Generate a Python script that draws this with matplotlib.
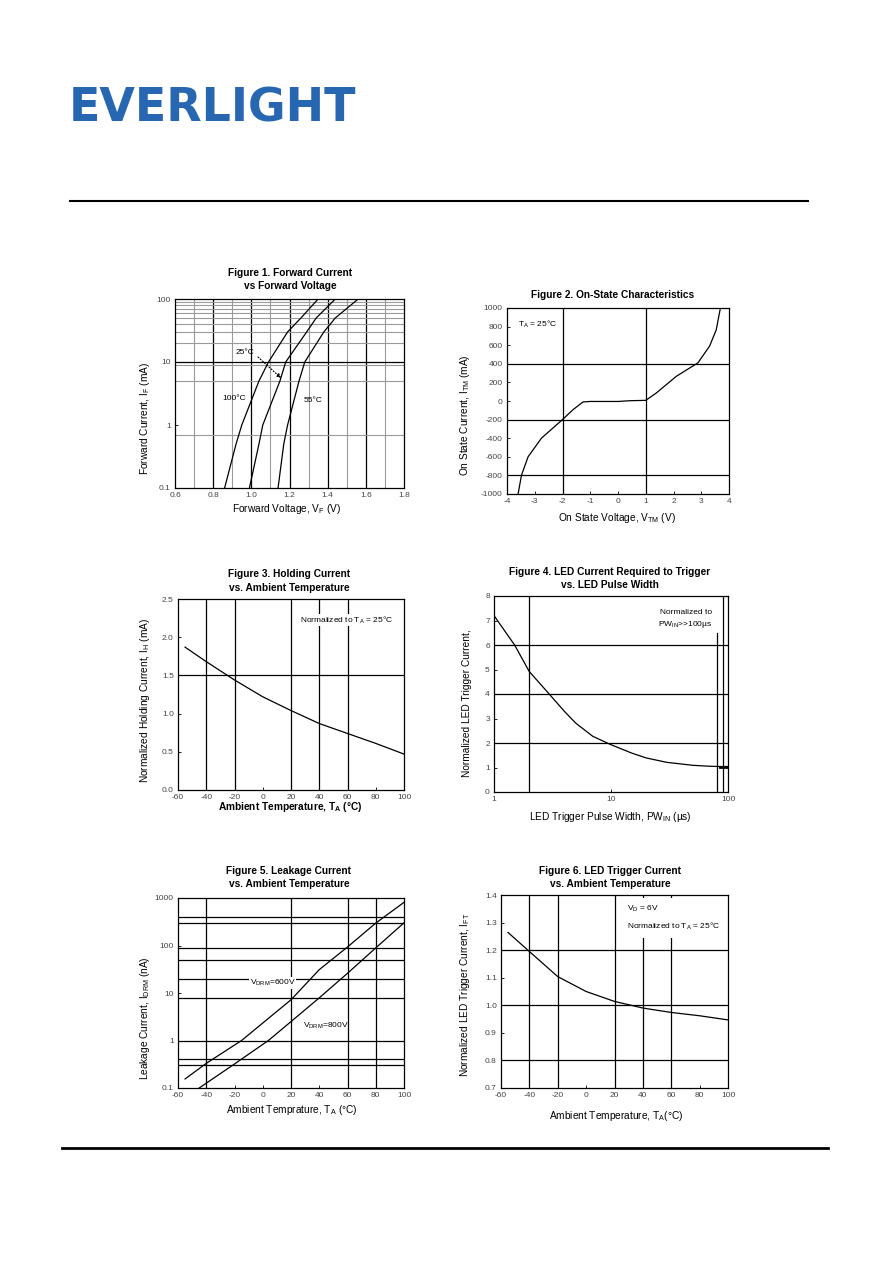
import matplotlib
matplotlib.use("Agg")
import matplotlib.pyplot as plt
from matplotlib.lines import Line2D

plt.rcParams["font.family"] = ["Liberation Sans", "DejaVu Sans"]
plt.rcParams["mathtext.default"] = "regular"
plt.rcParams["axes.unicode_minus"] = False

# Figure 1 - forward current vs forward voltage (log y)
if_ma = [0.1, 0.5, 1, 5, 10, 30, 50, 100]
vf_100c = [0.86, 0.92, 0.95, 1.04, 1.09, 1.19, 1.26, 1.35]
vf_25c = [0.99, 1.04, 1.06, 1.15, 1.18, 1.29, 1.34, 1.44]
vf_m55c = [1.14, 1.17, 1.19, 1.25, 1.28, 1.38, 1.44, 1.56]

# Figure 2 - on-state characteristics
vtm = [-3.60, -3.48, -3.24, -2.76, -2.0, -1.62, -1.26, -1.0, 0.0, 0.42, 1.0, 1.38, 2.1, 2.88, 3.3, 3.54, 3.69]
itm = [-1000, -800, -600, -400, -200, -93, -10, -5, -5, 3, 7, 86, 265, 410, 590, 765, 1000]

# Figure 3 - holding current vs temperature
temp3 = [-55, -40, -20, 0, 20, 40, 60, 80, 100]
ih_norm = [1.87, 1.68, 1.44, 1.22, 1.04, 0.87, 0.74, 0.61, 0.47]

# Figure 4 - LED trigger current vs pulse width (log x)
pw_us = [1, 1.5, 2, 3, 4, 5, 7, 10, 15, 20, 30, 50, 70, 85, 100]
ift_pw = [7.2, 6.0, 4.92, 3.97, 3.29, 2.81, 2.27, 1.93, 1.59, 1.39, 1.21, 1.09, 1.05, 1.04, 1.04]

# Figure 5 - leakage current vs temperature (log y)
temp5_a = [-55, -40, -15, 20, 40, 60, 80, 100]
leak_a = [0.155, 0.33, 1.0, 7.2, 31, 93, 296, 810]
temp5_b = [-45, -20, 4, 20, 40, 60, 80, 100]
leak_b = [0.1, 0.32, 1.0, 2.5, 7.9, 26, 89, 300]

# Figure 6 - LED trigger current vs temperature
temp6 = [-55, -40, -20, 0, 20, 40, 60, 80, 100]
ift_t = [1.264, 1.195, 1.104, 1.05, 1.014, 0.99, 0.974, 0.962, 0.947]

W, H = 892, 1263
BLUE = "#2767b2"
TICK = "#444444"
LBL = 7.3   # axis label / title size
ANN = 6.0   # in-plot note size


def box(x0, y0, x1, y1):
    return [x0 / W, 1 - y1 / H, (x1 - x0) / W, (y1 - y0) / H]


def fp(x, y):
    return (x / W, 1 - y / H)


def style(ax):
    for s in ax.spines.values():
        s.set_linewidth(0.9)
    ax.tick_params(labelsize=6, labelcolor=TICK, length=2, width=0.6, direction="in", pad=3)
    ax.tick_params(which="minor", length=0)


def titles(lines, cx, ys):
    for t, y in zip(lines, ys):
        fig.text(*fp(cx, y), t, ha="center", va="center", fontsize=LBL, fontweight="bold")


def xlabel(t, cx, y, bold=False):
    fig.text(*fp(cx, y), t, ha="center", va="center", fontsize=LBL,
             fontweight="bold" if bold else "normal")


def ylabel(t, x, cy):
    fig.text(*fp(x, cy), t, ha="center", va="center", fontsize=LBL, rotation=90)


def vgrid(ax, vals, color="k", lw=0.9):
    for v in vals:
        ax.axvline(v, color=color, lw=lw, zorder=1)


def hgrid(ax, vals, color="k", lw=0.9):
    for v in vals:
        ax.axhline(v, color=color, lw=lw, zorder=1)


fig = plt.figure(figsize=(8.92, 12.63), dpi=100)

# header
fig.text(*fp(69, 122), "EVERLIGHT", color=BLUE, fontsize=33, fontweight="bold",
         family="DejaVu Sans", ha="left", va="baseline")
fig.add_artist(Line2D([70 / W, 808 / W], [1 - 201 / H] * 2, color="k", lw=1.5))
fig.add_artist(Line2D([62 / W, 828 / W], [1 - 1148 / H] * 2, color="k", lw=2))

# ---- Figure 1
ax1 = fig.add_axes(box(175, 299, 404, 488))
ax1.set_yscale("log")
ax1.set_xlim(0.6, 1.8)
ax1.set_ylim(0.1, 100)
vgrid(ax1, [0.7, 0.9, 1.1, 1.3, 1.5, 1.7], color="#9a9a9a", lw=0.8)
vgrid(ax1, [0.8, 1.0, 1.2, 1.4, 1.6])
hgrid(ax1, [0.7, 5, 9, 20, 30, 40, 50, 60, 70, 80, 90], color="#9a9a9a", lw=0.8)
hgrid(ax1, [10])
for vf in (vf_100c, vf_25c, vf_m55c):
    ax1.plot(vf, if_ma, color="k", lw=0.9, zorder=3)
ax1.set_xticks([0.6, 0.8, 1.0, 1.2, 1.4, 1.6, 1.8])
ax1.set_xticklabels(["0.6", "0.8", "1.0", "1.2", "1.4", "1.6", "1.8"])
ax1.set_yticks([0.1, 1, 10, 100])
ax1.set_yticklabels(["0.1", "1", "10", "100"])
style(ax1)
fig.text(*fp(236, 353), "25°C", fontsize=ANN, va="center", ha="left")
fig.text(*fp(222, 398), "100°C", fontsize=ANN, va="center", ha="left")
fig.text(*fp(304, 400), "55°C", fontsize=ANN, va="center", ha="left")
ax1.annotate("", xy=fp(281, 378), xytext=fp(258, 357), xycoords="figure fraction",
             textcoords="figure fraction",
             arrowprops=dict(arrowstyle="-|>", linestyle=":", lw=0.8, color="k",
                             mutation_scale=6, shrinkA=0, shrinkB=0))
titles(["Figure 1. Forward Current", "vs Forward Voltage"], 290, [273, 286])
xlabel("Forward Voltage, V$_F$ (V)", 287, 509)
ylabel("Forward Current, I$_F$ (mA)", 145, 418)

# ---- Figure 2
ax2 = fig.add_axes(box(507, 308, 729, 494))
ax2.set_xlim(-4, 4)
ax2.set_ylim(-1000, 1000)
vgrid(ax2, [-2, 1])
hgrid(ax2, [400, -200, -800])
ax2.plot(vtm, itm, color="k", lw=0.9, zorder=3)
ax2.set_xticks(range(-4, 5))
ax2.set_yticks(range(-1000, 1001, 200))
style(ax2)
fig.text(*fp(518, 324), "T$_A$ = 25°C", fontsize=ANN, va="center", ha="left")
titles(["Figure 2. On-State Characteristics"], 613, [295])
xlabel("On State Voltage, V$_{TM}$ (V)", 617, 518)
ylabel("On State Current, I$_{TM}$ (mA)", 465, 415)

# ---- Figure 3
ax3 = fig.add_axes(box(178, 599, 404, 790))
ax3.set_xlim(-60, 100)
ax3.set_ylim(0, 2.5)
vgrid(ax3, [-40, -20, 20, 40, 60])
hgrid(ax3, [1.5])
ax3.plot(temp3, ih_norm, color="k", lw=0.9, zorder=3)
ax3.set_xticks(range(-60, 101, 20))
ax3.set_yticks([0, 0.5, 1.0, 1.5, 2.0, 2.5])
ax3.set_yticklabels(["0.0", "0.5", "1.0", "1.5", "2.0", "2.5"])
style(ax3)
fig.text(*fp(300, 620), "Normalized to T$_A$ = 25°C", fontsize=ANN, va="center", ha="left",
         bbox=dict(fc="white", ec="none", pad=0.5), zorder=5)
titles(["Figure 3. Holding Current", "vs. Ambient Temperature"], 289, [574, 588])
xlabel("Ambient Temperature, T$_A$ (°C)", 290, 807, bold=True)
ylabel("Normalized Holding Current, I$_H$ (mA)", 145, 700)

# ---- Figure 4
ax4 = fig.add_axes(box(494, 596, 728, 792))
ax4.set_xscale("log")
ax4.set_xlim(1, 100)
ax4.set_ylim(0, 8)
vgrid(ax4, [2, 90])
ax4.axvline(80, ymax=0.81, color="k", lw=0.9, zorder=1)
hgrid(ax4, [2, 4, 6])
ax4.plot(pw_us, ift_pw, color="k", lw=0.9, zorder=3)
ax4.plot(pw_us[-2:], ift_pw[-2:], color="k", lw=2.0, zorder=3)
ax4.set_xticks([1, 10, 100])
ax4.set_xticklabels(["1", "10", "100"])
ax4.set_yticks(range(0, 9))
style(ax4)
fig.text(*fp(712, 612), "Normalized to", fontsize=ANN, va="center", ha="right")
fig.text(*fp(712, 624), "PW$_{IN}$>>100µs", fontsize=ANN, va="center", ha="right")
titles(["Figure 4. LED Current Required to Trigger", "vs. LED Pulse Width"], 610, [572, 585])
xlabel("LED Trigger Pulse Width, PW$_{IN}$ (µs)", 610, 817)
ylabel("Normalized LED Trigger Current,", 467, 703)

# ---- Figure 5
ax5 = fig.add_axes(box(178, 898, 404, 1088))
ax5.set_yscale("log")
ax5.set_xlim(-60, 100)
ax5.set_ylim(0.1, 1000)
vgrid(ax5, [-40, 20, 60, 80])
hgrid(ax5, [0.3, 0.4, 1, 8, 20, 50, 90, 300, 400])
ax5.plot(temp5_a, leak_a, color="k", lw=0.9, zorder=3)
ax5.plot(temp5_b, leak_b, color="k", lw=0.9, zorder=3)
ax5.set_xticks(range(-60, 101, 20))
ax5.set_yticks([0.1, 1, 10, 100, 1000])
ax5.set_yticklabels(["0.1", "1", "10", "100", "1000"])
style(ax5)
fig.text(*fp(250, 983), "V$_{DRM}$=600V", fontsize=ANN, va="center", ha="left",
         bbox=dict(fc="white", ec="none", pad=0.5), zorder=5)
fig.text(*fp(303, 1026), "V$_{DRM}$=800V", fontsize=ANN, va="center", ha="left")
titles(["Figure 5. Leakage Current", "vs. Ambient Temperature"], 289, [871, 884])
xlabel("Ambient Temprature, T$_A$ (°C)", 292, 1110)
ylabel("Leakage Current, I$_{DRM}$ (nA)", 145, 1018)

# ---- Figure 6
ax6 = fig.add_axes(box(501, 895, 728, 1088))
ax6.set_xlim(-60, 100)
ax6.set_ylim(0.7, 1.4)
vgrid(ax6, [-40, -20, 20, 40, 60])
hgrid(ax6, [0.8, 1.0, 1.2])
ax6.plot(temp6, ift_t, color="k", lw=0.9, zorder=3)
ax6.set_xticks(range(-60, 101, 20))
ax6.set_yticks([0.7, 0.8, 0.9, 1.0, 1.1, 1.2, 1.3, 1.4])
ax6.set_yticklabels(["0.7", "0.8", "0.9", "1.0", "1.1", "1.2", "1.3", "1.4"])
style(ax6)
fig.text(*fp(627, 918), "V$_D$ = 6V\nNormalized to T$_A$ = 25°C", fontsize=ANN,
         va="center", ha="left", linespacing=1.9,
         bbox=dict(fc="white", ec="none", pad=4), zorder=5)
titles(["Figure 6. LED Trigger Current", "vs. Ambient Temperature"], 610, [871, 884])
xlabel("Ambient Temperature, T$_A$(°C)", 616, 1116)
ylabel("Normalized LED Trigger Current, I$_{FT}$", 465, 995)

fig.savefig("out.png", dpi=100)
